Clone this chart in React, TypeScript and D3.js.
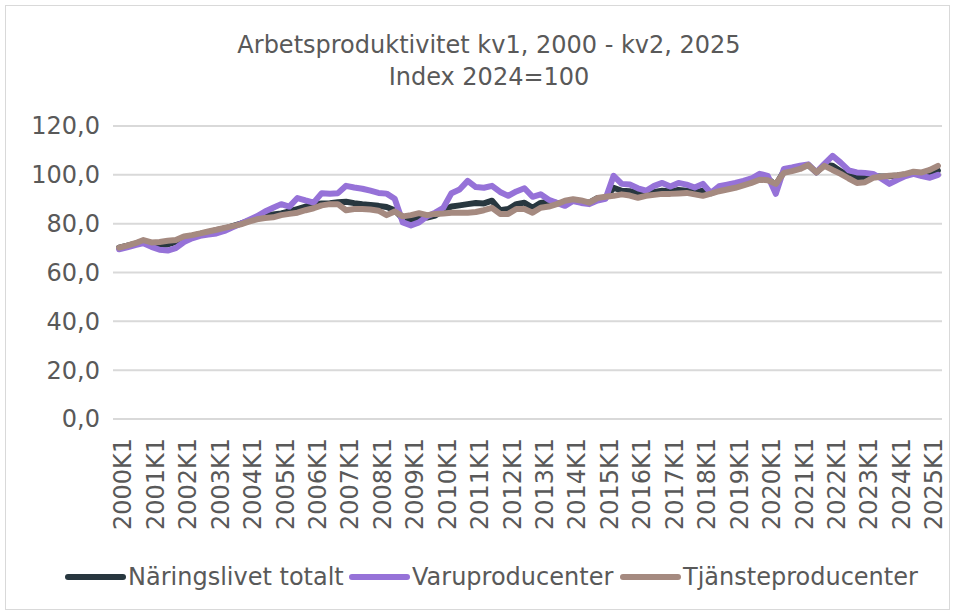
import React from "react";
import * as d3 from "d3";

const years = d3.range(2000, 2026);
const quarters: string[] = [];
years.forEach((y) => [1, 2, 3, 4].forEach((q) => quarters.push(`${y}K${q}`)));
const categories = quarters.slice(0, 102); // 2000K1 .. 2025K2

const totalt = [
  70.2, 71, 71.8, 72.8, 72, 71.3, 71.5, 72.5, 74.5, 75, 75.8, 76.5, 77.3, 78, 79, 80,
  81.2, 82.5, 83.2, 83.8, 84.2, 85, 86, 87, 88, 88.3, 88.4, 88.8, 89, 88.4, 88, 87.7,
  87.3, 86.8, 85.5, 82, 81.5, 82.4, 82.5, 83.3, 85.5, 87, 87.5, 88, 88.5, 88.3, 89.4, 85.5,
  86, 88, 88.6, 86.5, 88.5, 89, 88.5, 88.5, 89.5, 89, 88.6, 90.5, 90.6, 94.7, 93.5, 93.3,
  92.5, 92.2, 93, 93.5, 93.2, 93.8, 93.5, 92.8, 93.5, 92.5, 93.8, 94.5, 95.2, 96, 97.2, 98.6,
  98.5, 95.8, 101.5, 102, 103, 104, 101, 104, 103.7, 101.5, 99.5, 98.8, 98.8, 99.4, 99.3, 99.4,
  99.7, 100.2, 100.8, 100.8, 101.2, 101.8,
];

const varu = [
  69.5, 70.3, 71.2, 72, 70.5, 69.3, 69, 70, 72.5, 74, 75, 75.5, 76, 77, 78.5, 80,
  81.5, 83, 85, 86.5, 88, 87, 90.5, 89.5, 88.6, 92.5, 92.3, 92.5, 95.5, 94.8, 94.3, 93.5,
  92.6, 92.3, 90.2, 80.5, 79.3, 80.5, 83, 84.5, 86.5, 92.5, 94, 97.5, 95, 94.7, 95.5, 93,
  91.4, 93.2, 94.5, 91, 92, 89.8, 88.5, 87.3, 89.3, 88.5, 88, 89.5, 90.2, 99.6, 96.3, 96,
  94.5, 93.5, 95.5, 96.7, 95.2, 96.7, 96, 94.8, 96.3, 92.6, 95.3, 96, 96.7, 97.5, 98.5, 100.4,
  99.6, 92.2, 102.4, 103, 103.7, 104.3, 101, 104.5, 107.8, 105, 101.8, 101, 100.8, 100.4, 98.5, 96.3,
  98, 99.5, 100.4, 99.5, 98.8, 100,
];

const tjanste = [
  70.2, 71, 72, 73.3, 72.3, 72.5, 73, 73.3, 74.8, 75.3, 76, 76.8, 77.5, 78.3, 79, 79.7,
  80.8, 81.8, 82.3, 82.6, 83.5, 84, 84.5, 85.5, 86.3, 87.5, 88, 88, 85.5, 86, 86, 85.8,
  85.3, 83.5, 85, 83, 83.5, 84.3, 83.5, 84, 84.2, 84.5, 84.5, 84.5, 84.8, 85.5, 86.5, 84,
  84, 86, 86, 84.5, 86.5, 87, 88, 89.4, 90, 89.5, 88.6, 90.5, 91, 91.4, 92, 91.5,
  90.6, 91.4, 91.8, 92.2, 92.2, 92.4, 92.6, 92, 91.4, 92.3, 93.3, 94, 94.7, 95.7, 96.7, 98,
  97.8, 96.3, 100.8, 101.5, 102.4, 104, 101, 103.7, 102, 100.4, 98.5, 96.7, 97, 98.8, 99.2, 99.6,
  99.8, 100.4, 101.3, 101, 102, 103.7,
];

const yTicks = [0, 20, 40, 60, 80, 100, 120];
const xTickLabels = categories.filter((c) => c.endsWith("K1"));

const series = [
  { name: "Näringslivet totalt", values: totalt, color: "#28373f" },
  { name: "Varuproducenter", values: varu, color: "#9672d8" },
  { name: "Tjänsteproducenter", values: tjanste, color: "#a58a80" },
];

const W = 957;
const H = 615;
const font = "'DejaVu Sans', Verdana, sans-serif";
const textColor = "#595959";

export default function App() {
  const x = d3.scalePoint<string>().domain(categories).range([115, 942]).padding(0.5);
  const y = d3.scaleLinear().domain([0, 120]).range([419, 126]);

  const line = d3
    .line<number>()
    .x((_, i) => x(categories[i])!)
    .y((d) => y(d));

  // legend layout
  const legendX = [68, 352, 623];
  const legendY = 577;

  return (
    <svg
      width={W}
      height={H}
      style={{ position: "absolute", left: 0, top: 0, background: "#fff" }}
      fontFamily={font}
    >
      <rect x={5.5} y={5.5} width={944} height={604} fill="#fff" stroke="#d9d9d9" />

      {/* titel */}
      <text x={489} y={53} textAnchor="middle" fontSize={24} fill={textColor}>
        Arbetsproduktivitet kv1, 2000 - kv2, 2025
      </text>
      <text x={489} y={85} textAnchor="middle" fontSize={24} fill={textColor}>
        Index 2024=100
      </text>

      {/* rutnät och y-axel */}
      {yTicks.map((t) => (
        <g key={t}>
          <line x1={113} x2={942} y1={y(t)} y2={y(t)} stroke="#d9d9d9" strokeWidth={2} />
          <text
            x={100}
            y={y(t)}
            dy="0.35em"
            textAnchor="end"
            fontSize={24}
            fill={textColor}
          >
            {d3.format(".1f")(t).replace(".", ",")}
          </text>
        </g>
      ))}

      {/* x-axel */}
      {xTickLabels.map((c) => (
        <text
          key={c}
          transform={`translate(${x(c)! + 4},438) rotate(-90)`}
          dy="0.35em"
          textAnchor="end"
          fontSize={24}
          fill={textColor}
        >
          {c}
        </text>
      ))}

      {/* linjer */}
      {series.map((s) => (
        <path
          key={s.name}
          d={line(s.values) || ""}
          fill="none"
          stroke={s.color}
          strokeWidth={6}
          strokeLinejoin="round"
          strokeLinecap="round"
        />
      ))}

      {/* legend */}
      {series.map((s, i) => (
        <g key={s.name}>
          <line
            x1={legendX[i]}
            x2={legendX[i] + 55}
            y1={legendY}
            y2={legendY}
            stroke={s.color}
            strokeWidth={6}
            strokeLinecap="round"
          />
          <text
            x={legendX[i] + 60}
            y={legendY}
            dy="0.35em"
            fontSize={24}
            fill={textColor}
          >
            {s.name}
          </text>
        </g>
      ))}
    </svg>
  );
}
